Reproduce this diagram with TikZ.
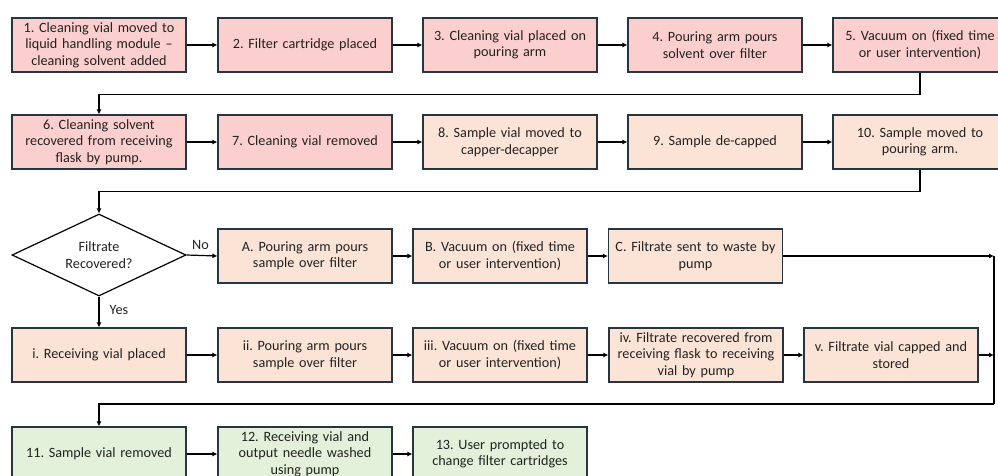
\documentclass[tikz,border=0pt]{standalone}
\usepackage{fontspec}
\setmainfont{Carlito}
\usetikzlibrary{shapes.geometric,arrows.meta}
\definecolor{pinkfill}{HTML}{FBCFCE}
\definecolor{peachfill}{HTML}{FBE4D6}
\definecolor{greenfill}{HTML}{E3F0DA}
\definecolor{edgecol}{HTML}{26353F}
\definecolor{txtcol}{HTML}{222222}
\tikzset{
  stepbox/.style={draw=edgecol, line width=1.2pt, rectangle,
    minimum width=174pt, minimum height=54pt, inner sep=0pt,
    text width=172pt, align=center, text=txtcol,
    font=\fontsize{14.2pt}{16.5pt}\selectfont},
  pinkbox/.style={stepbox, fill=pinkfill},
  peachbox/.style={stepbox, fill=peachfill},
  greenbox/.style={stepbox, fill=greenfill},
  decision/.style={draw=black, line width=1.2pt, diamond, fill=white,
    minimum width=174pt, minimum height=82pt, inner sep=0pt,
    shape aspect=2.1, align=center, text=txtcol,
    font=\fontsize{14.2pt}{16.5pt}\selectfont},
  arr/.style={draw=black, line width=1.2pt, -{Latex[length=5pt,width=5pt]}},
  link/.style={draw=black, line width=1.2pt},
  lbl/.style={text=txtcol, font=\fontsize{14.2pt}{16pt}\selectfont, inner sep=0pt}
}
\frenchspacing
\begin{document}
\begin{tikzpicture}[x=1pt,y=-1pt]
\useasboundingbox (0,0) rectangle (998,475);
\fill[white] (0,0) rectangle (998,475);

% cleaning sequence
\node[pinkbox] (s1) at (99,45) {1. Cleaning vial moved to\\liquid handling module --\\cleaning solvent added};
\node[pinkbox] (s2) at (305,45) {2. Filter cartridge placed};
\node[pinkbox] (s3) at (510,45) {3. Cleaning vial placed on\\pouring arm};
\node[pinkbox] (s4) at (715,45) {4. Pouring arm pours\\solvent over filter};
\node[pinkbox] (s5) at (920,45) {5. Vacuum on (fixed time\\or user intervention)};

\node[pinkbox] (s6) at (99,142) {6. Cleaning solvent\\recovered from receiving\\flask by pump.};
\node[pinkbox] (s7) at (305,142) {7. Cleaning vial removed};
\node[peachbox] (s8) at (510,142) {8. Sample vial moved to\\capper-decapper};
\node[peachbox] (s9) at (715,142) {9. Sample de-capped};
\node[peachbox] (s10) at (920,142) {10. Sample moved to\\pouring arm.};

% decision
\node[decision] (dec) at (99,255) {Filtrate\\Recovered?};

\node[peachbox] (sA) at (305,256) {A. Pouring arm pours\\sample over filter};
\node[peachbox] (sB) at (500,256) {B. Vacuum on (fixed time\\or user intervention)};
\node[peachbox] (sC) at (695.5,256) {C. Filtrate sent to waste by\\pump};

\node[peachbox] (si) at (99,355) {i. Receiving vial placed};
\node[peachbox] (sii) at (305,355) {ii. Pouring arm pours\\sample over filter};
\node[peachbox] (siii) at (500,355) {iii. Vacuum on (fixed time\\or user intervention)};
\node[peachbox] (siv) at (696,355) {iv. Filtrate recovered from\\receiving flask to receiving\\vial by pump};
\node[peachbox] (sv) at (891,355) {v. Filtrate vial capped and\\stored};

\node[greenbox] (s11) at (99,454) {11. Sample vial removed};
\node[greenbox] (s12) at (305,454) {12. Receiving vial and\\output needle washed\\using pump};
\node[greenbox] (s13) at (500,454) {13. User prompted to\\change filter cartridges};

% merge points on the right-hand return line
\coordinate (mC) at (994,256);
\coordinate (mv) at (994,355);
\coordinate (mb) at (994,404);

% connectors
\draw[arr] (s1) -- (s2);
\draw[arr] (s2) -- (s3);
\draw[arr] (s3) -- (s4);
\draw[arr] (s4) -- (s5);
\draw[arr] (s5.south) -- ++(0,22) -| (s6.north);
\draw[arr] (s6) -- (s7);
\draw[arr] (s7) -- (s8);
\draw[arr] (s8) -- (s9);
\draw[arr] (s9) -- (s10);
\draw[arr] (s10.south) -- ++(0,22) -| (dec.north);

\draw[arr] (dec.east) -- node[lbl, above=5pt, pos=0.45] {No} (sA.west);
\draw[arr] (dec.south) -- node[lbl, right=10pt, pos=0.45] {Yes} (si.north);

\draw[arr] (sA) -- (sB);
\draw[arr] (sB) -- (sC);
\draw[arr] (sC.east) -- (mC);

\draw[arr] (si) -- (sii);
\draw[arr] (sii) -- (siii);
\draw[arr] (siii) -- (siv);
\draw[arr] (siv) -- (sv);
\draw[arr] (sv.east) -- (mv);

\draw[link] (mC) -- (mb);
\draw[arr] (mb) -| (s11.north);

\draw[arr] (s11) -- (s12);
\draw[arr] (s12) -- (s13);
\end{tikzpicture}
\end{document}
